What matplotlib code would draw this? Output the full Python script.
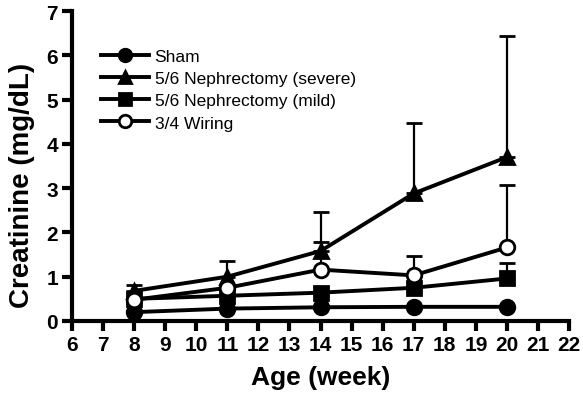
import numpy as np
import matplotlib
matplotlib.use("Agg")
import matplotlib.pyplot as plt
from matplotlib.lines import Line2D

plt.rcParams['font.family'] = ['Liberation Sans', 'DejaVu Sans']

weeks = [8, 11, 14, 17, 20]
sham = [0.20, 0.28, 0.31, 0.32, 0.32]
sham_err = [0.0, 0.0, 0.0, 0.0, 0.0]
severe = [0.68, 1.00, 1.58, 2.88, 3.70]
severe_err = [0.14, 0.36, 0.88, 1.60, 2.73]
mild = [0.50, 0.57, 0.64, 0.75, 0.96]
mild_err = [0.0, 0.0, 0.0, 0.0, 0.36]
wiring = [0.48, 0.75, 1.16, 1.03, 1.66]
wiring_err = [0.0, 0.0, 0.62, 0.44, 1.42]

labels = ['Sham', '5/6 Nephrectomy (severe)', '5/6 Nephrectomy (mild)', '3/4 Wiring']

fig = plt.figure(figsize=(5.83, 4.02), dpi=100)
ax = fig.add_axes([72/583, 80/402, (569-72)/583, (322-12)/402])

series = [(sham, sham_err, 'o', 'black'),
          (severe, severe_err, '^', 'black'),
          (mild, mild_err, 's', 'black'),
          (wiring, wiring_err, 'o', 'white')]
handles = []
for (y, e, m, fc), lab in zip(series, labels):
    ax.errorbar(weeks, y, yerr=[np.zeros(len(e)), e], color='black', lw=2.8,
                marker=m, ms=10.5, mfc=fc, mec='black', mew=2,
                elinewidth=1.6, capsize=5.5, capthick=1.8)
    handles.append(Line2D([], [], color='black', lw=2.8, marker=m, ms=9,
                          mfc=fc, mec='black', mew=2, label=lab))

ax.set_xlim(6, 22)
ax.set_ylim(0, 7)
ax.set_xticks(range(6, 23))
ax.set_yticks(range(0, 8))
for s in ['top', 'right']:
    ax.spines[s].set_visible(False)
for s in ['left', 'bottom']:
    ax.spines[s].set_linewidth(3)
ax.tick_params(direction='out', length=7, width=3, labelsize=15, pad=3)
for t in ax.get_xticklabels() + ax.get_yticklabels():
    t.set_fontweight('bold')
ax.set_xlabel('Age (week)', fontsize=19, fontweight='bold', labelpad=8)
ax.set_ylabel('Creatinine (mg/dL)', fontsize=20, fontweight='bold')
ax.yaxis.set_label_coords(-0.074, 0.439)

ax.legend(handles=handles, loc='upper left', bbox_to_anchor=(0.058, 0.877),
          frameon=False, fontsize=12.5, handlelength=2.8, handletextpad=0.3,
          labelspacing=0.4, borderaxespad=0, borderpad=0)

fig.savefig('out.png', dpi=100)
